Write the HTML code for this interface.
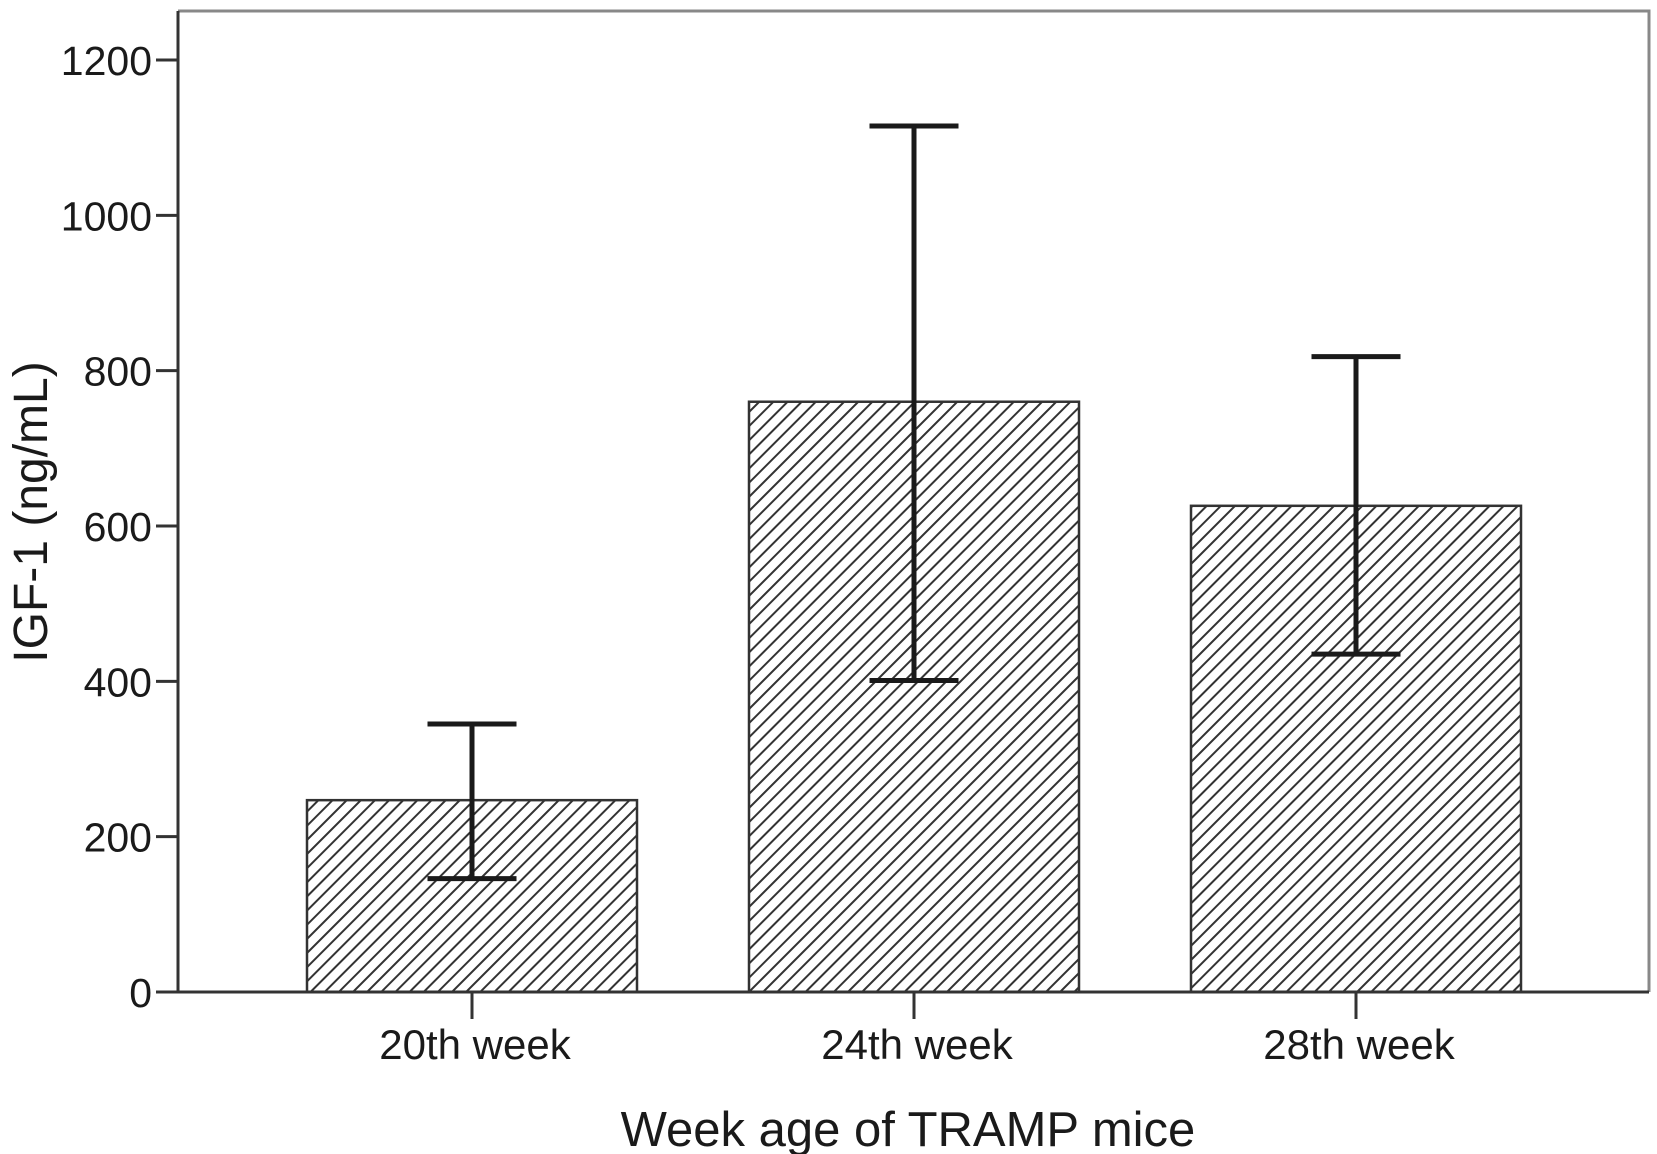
<!DOCTYPE html>
<html><head><meta charset="utf-8"><style>
html,body{margin:0;padding:0;background:#fff}
svg{display:block}
text{font-family:"Liberation Sans",Arial,sans-serif;fill:#1a1a1a}
</style></head><body>
<svg width="1657" height="1154" viewBox="0 0 1657 1154">
<defs>
<pattern id="hatch" patternUnits="userSpaceOnUse" width="10" height="10" patternTransform="rotate(45)">
<rect width="10" height="10" fill="#fff"/>
<line x1="0" y1="0" x2="0" y2="10" stroke="#333" stroke-width="4"/>
</pattern>
</defs>
<g id="plot"></g>
</svg>
<script>
const categories = ["20th week","24th week","28th week"];
const means = [247, 760, 626];
const errLow = [146, 401, 435];
const errHigh = [345, 1115, 818];
const yTicks = [0,200,400,600,800,1000,1200];

const L=178, R=1649, T=11, B=992;
const yMin=0, yPerUnit=(992-60)/1200;
function y(v){return B-(v-yMin)*yPerUnit;}
const centers=[472,915,1356];
function x(i){return centers[0]+i*((centers[2]-centers[0])/(categories.length-1));}
const barW=330, capW=89;
const NS="http://www.w3.org/2000/svg";
const g=document.getElementById('plot');
function el(t,a){const e=document.createElementNS(NS,t);for(const k in a)e.setAttribute(k,a[k]);g.appendChild(e);return e;}

let fr=el('path',{d:`M${L} ${T} H${R} V${B}`,fill:'none',stroke:'#888',"stroke-width":3});



categories.forEach((c,i)=>{
  const cx=x(i);
  const b=el('rect',{x:cx-barW/2,y:y(means[i]),width:barW,height:B-y(means[i]),fill:'url(#hatch)',stroke:'#333','stroke-width':2.5});
  
  
  const e=el('path',{d:`M${cx} ${y(errLow[i])} V${y(errHigh[i])} M${cx-capW/2} ${y(errHigh[i])} H${cx+capW/2} M${cx-capW/2} ${y(errLow[i])} H${cx+capW/2}`,stroke:'#1a1a1a','stroke-width':5,fill:'none'});
  
  
  const tk=el('line',{x1:cx,y1:B,x2:cx,y2:B+27,stroke:'#333','stroke-width':3});
  
  
  const t=el('text',{x:cx+3,y:1059,'text-anchor':'middle','font-size':42});
  t.textContent=c;
  
  
});

yTicks.forEach(v=>{
  const tk=el('line',{x1:L-22,y1:y(v),x2:L,y2:y(v),stroke:'#333','stroke-width':3});
  
  
  const t=el('text',{x:L-26,y:y(v)+15,'text-anchor':'end','font-size':41});
  t.textContent=v;
  
  
});

const ax=el('path',{d:`M${L} ${T} V${B} H${R}`,fill:'none',stroke:'#333','stroke-width':3});



const xt=el('text',{x:908,y:1146,'text-anchor':'middle','font-size':49});
xt.textContent='Week age of TRAMP mice';


const yt=el('text',{x:0,y:0,'text-anchor':'middle','font-size':48,transform:'translate(47 512) rotate(-90)'});
yt.textContent='IGF-1 (ng/mL)';


</script>
</body></html>
